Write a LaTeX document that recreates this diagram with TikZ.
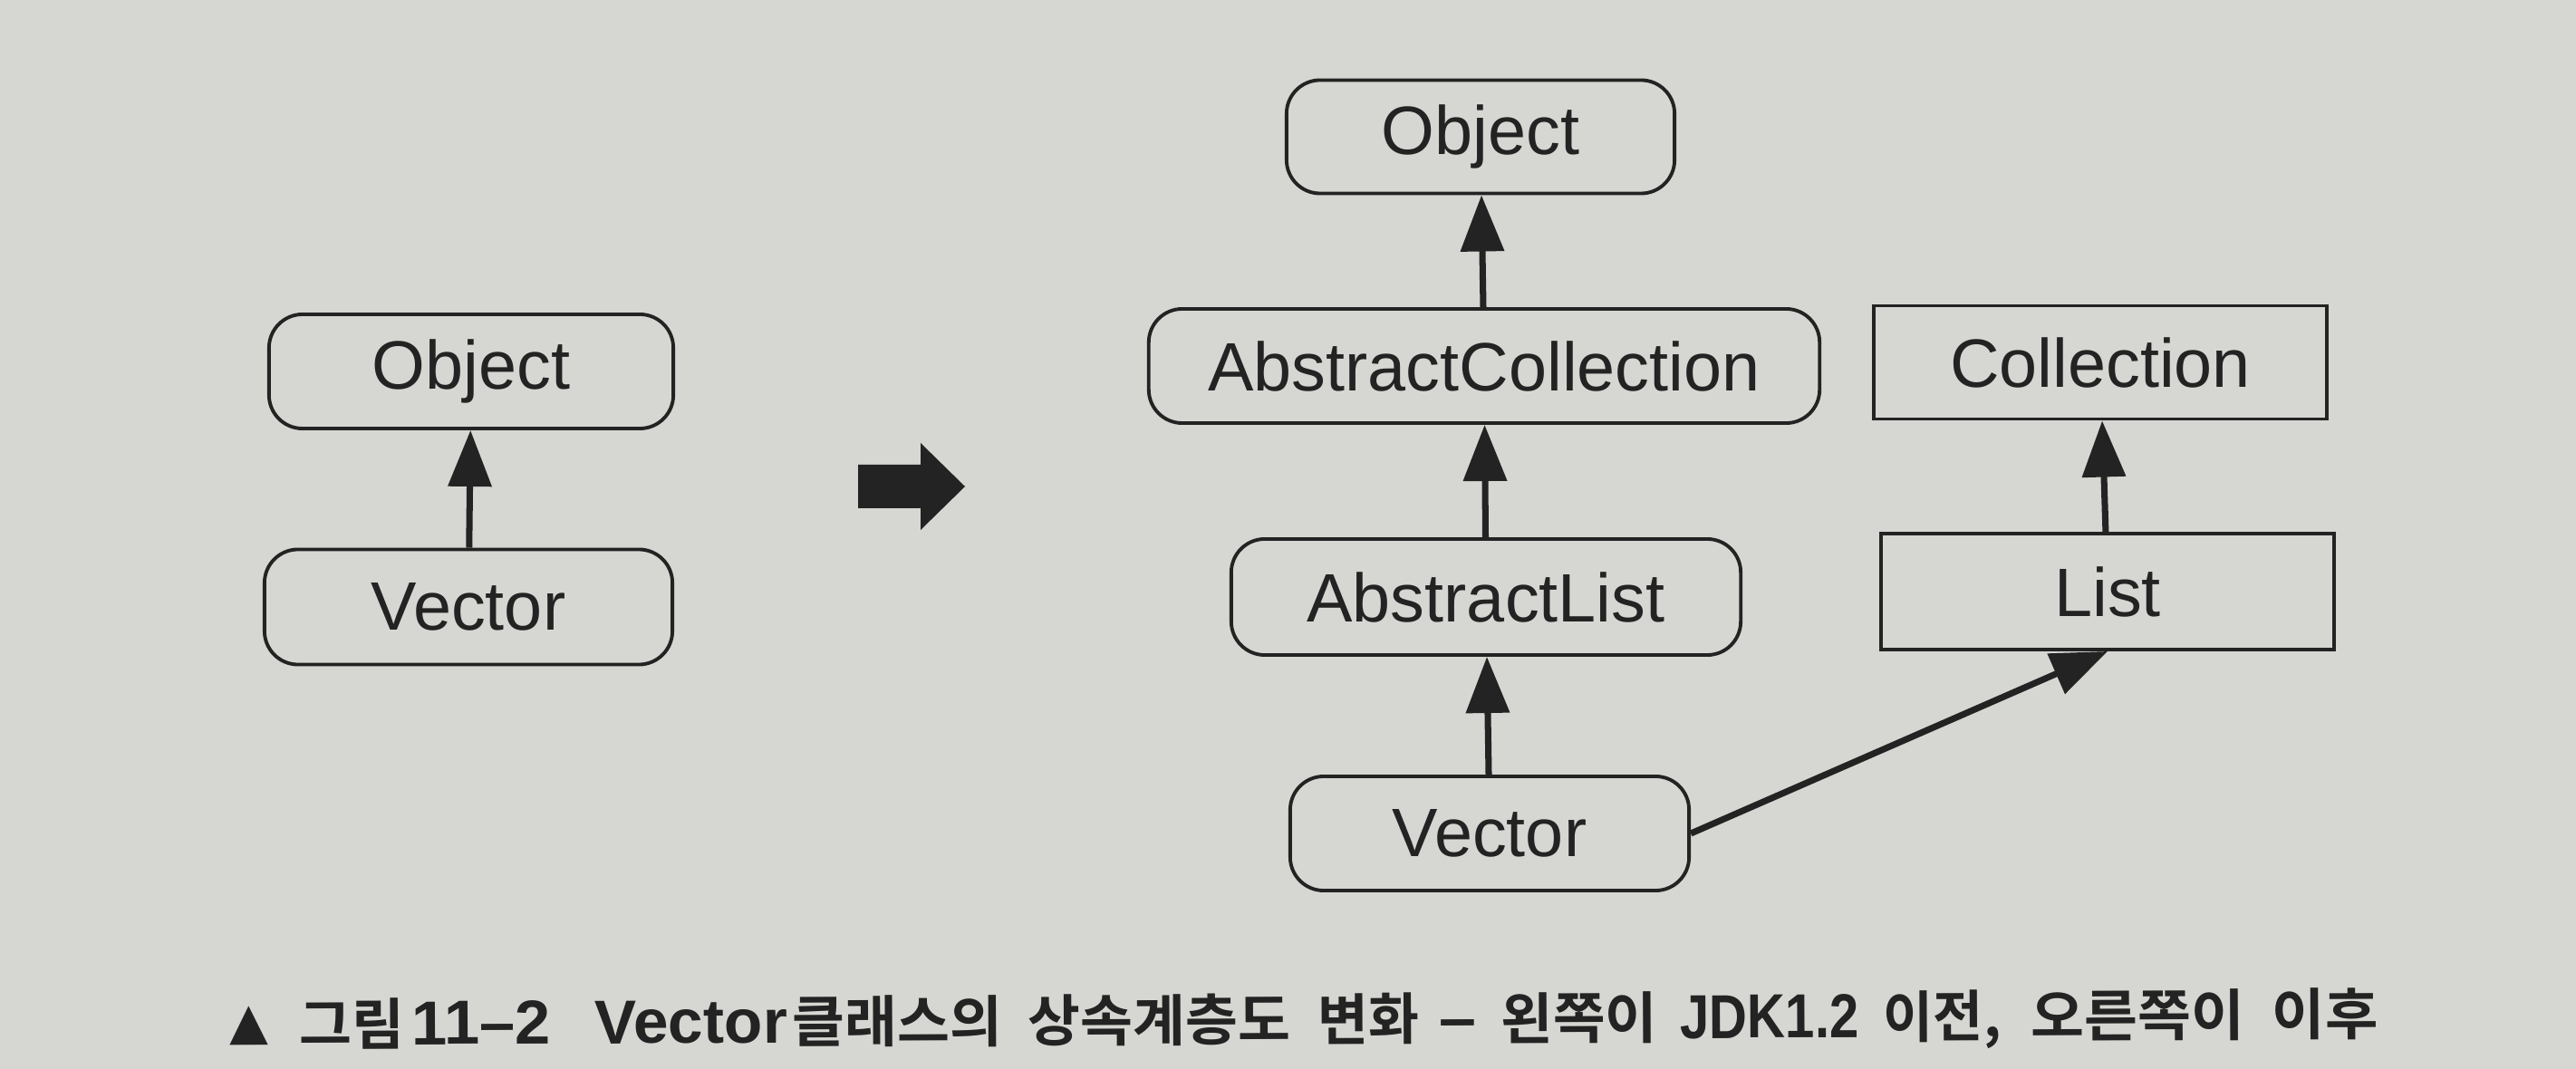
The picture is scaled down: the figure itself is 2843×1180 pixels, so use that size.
\documentclass[tikz,border=0pt]{standalone}
\usepackage{fontspec}
\usepackage{graphicx}
\usetikzlibrary{arrows.meta}
\newfontfamily\boxfont{Liberation Sans}
\newfontfamily\capfont{Noto Sans CJK KR Bold}
\newfontfamily\caplat{Liberation Sans Bold}
\newcommand\lat[1]{{\caplat\fontsize{19.5}{22}\selectfont #1}}
\newcommand\capseg[2]{\resizebox{#1}{\height}{#2}}
\definecolor{paper}{RGB}{214,215,210}
\definecolor{ink}{RGB}{35,35,35}
\tikzset{
  cls/.style={draw=ink, line width=1.1pt, rounded corners=0.37cm, inner sep=0pt,
    font=\boxfont\fontsize{21.5}{24}\selectfont, text=ink},
  iface/.style={draw=ink, line width=1.1pt, inner sep=0pt,
    font=\boxfont\fontsize{21.5}{24}\selectfont, text=ink},
  inh/.style={draw=ink, line width=2pt, -{Triangle[length=0.62cm,width=0.47cm]}},
}
\begin{document}
\begin{tikzpicture}[x=0.01cm,y=-0.01cm]
\fill[paper] (0,0) rectangle (2843,1180);
\useasboundingbox (0,0) rectangle (2843,1180);
% left hierarchy
\node[cls, minimum width=4.46cm, minimum height=1.26cm] (objL) at (520,410) {Object};
\node[cls, minimum width=4.50cm, minimum height=1.27cm] (vecL) at (517,670) {Vector};
\draw[inh] (vecL) -- (objL);
% block arrow
\fill[ink] (947,513) -- (1016,513) -- (1016,489) -- (1065,537) -- (1016,585) -- (1016,561) -- (947,561) -- cycle;
% right hierarchy
\node[cls, minimum width=4.28cm, minimum height=1.25cm] (objR) at (1634,151) {Object};
\node[cls, minimum width=7.40cm, minimum height=1.26cm] (acol) at (1638,404) {AbstractCollection};
\node[cls, minimum width=5.62cm, minimum height=1.28cm] (alist) at (1640,659) {AbstractList};
\node[cls, minimum width=4.40cm, minimum height=1.26cm] (vecR) at (1644,920) {Vector};
\node[iface, minimum width=5.00cm, minimum height=1.25cm] (coll) at (2318,400) {Collection};
\node[iface, minimum width=5.00cm, minimum height=1.28cm] (list) at (2326,653) {List};
\draw[inh] (acol) -- (objR);
\draw[inh] (alist) -- (acol);
\draw[inh] (vecR) -- (alist);
\draw[inh] (list) -- (coll);
\draw[inh] (vecR.east) -- (list.south);
% caption
\node[anchor=base west, inner sep=0pt, rotate=0.28, text=ink, font=\capfont\fontsize{17.5}{20}\selectfont] (cap) at (252,1154)
  {\capseg{0.45cm}{\fontsize{15}{16}\selectfont ▲}\hspace{0.33cm}%
   \capseg{1.16cm}{그림}\hspace{0.08cm}%
   \capseg{1.53cm}{\lat{11–2}}\hspace{0.49cm}%
   \capseg{2.12cm}{\lat{Vector}}\hspace{0.05cm}%
   \capseg{2.32cm}{클래스의}\hspace{0.28cm}%
   \capseg{2.90cm}{상속계층도}\hspace{0.30cm}%
   \capseg{1.12cm}{변화}\hspace{0.22cm}%
   \capseg{0.41cm}{\lat{–}}\hspace{0.27cm}%
   \capseg{1.73cm}{왼쪽이}\hspace{0.25cm}%
   \capseg{1.97cm}{\lat{JDK1.2}}\hspace{0.27cm}%
   \capseg{1.30cm}{이전,}\hspace{0.33cm}%
   \capseg{2.36cm}{오른쪽이}\hspace{0.30cm}%
   \capseg{1.17cm}{이후}};
\end{tikzpicture}
\end{document}
